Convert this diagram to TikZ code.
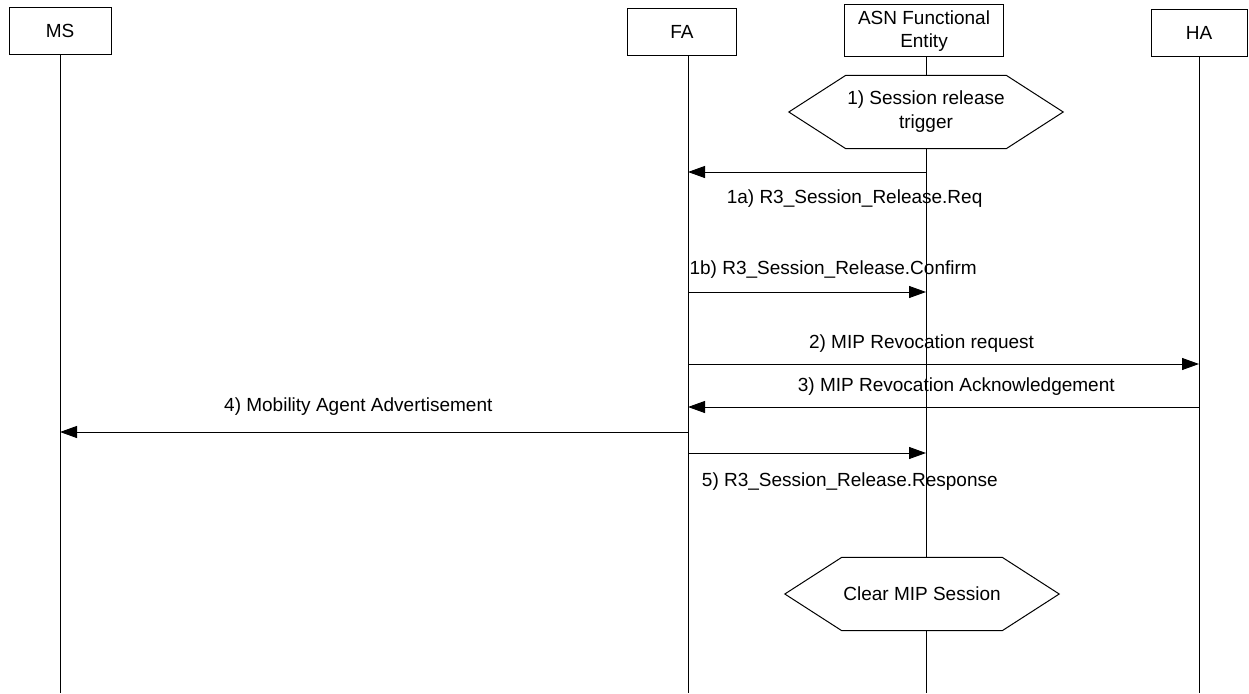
\documentclass[tikz,border=0pt]{standalone}
\usepackage{fontspec}
\setmainfont{Liberation Sans}
\usetikzlibrary{arrows.meta}

\tikzset{
  entity/.style={draw, line width=1pt, minimum height=47pt, inner sep=2pt, align=center, font=\fontsize{19}{23}\selectfont},
  hexbox/.style={minimum width=274pt, minimum height=73pt, inner sep=0pt, align=center, font=\fontsize{19}{24}\selectfont},
  lifeline/.style={line width=1pt},
  msg/.style={line width=1pt, -{Triangle[length=17pt,width=12pt]}},
  msglabel/.style={inner sep=0pt, font=\fontsize{19}{22}\selectfont},
}
\newcommand{\hexborder}[1]{\draw[line width=1pt] (#1.west) -- ([xshift=57pt]#1.north west) -- ([xshift=-57pt]#1.north east) -- (#1.east) -- ([xshift=-57pt]#1.south east) -- ([xshift=57pt]#1.south west) -- cycle;}

\begin{document}
\begin{tikzpicture}[x=1pt,y=-1pt]
\useasboundingbox (0,0) rectangle (1249,693);
\node[entity, minimum width=102pt] (ms) at (60,31) {MS};
\node[entity, minimum width=109pt] (fa) at (682,32) {FA};
\node[entity, minimum width=159pt, minimum height=52pt] (asn) at (924,31) {ASN Functional\\Entity};
\node[entity, minimum width=96pt] (ha) at (1199,33) {HA};
\coordinate (fal) at (688,55.5);
\coordinate (bot) at (0,693);

\node[hexbox] (trig) at (926,112) {1) Session release\\trigger};
\hexborder{trig}
\node[hexbox] (clear) at (922,594) {Clear MIP Session};
\hexborder{clear}

% lifelines
\draw[lifeline] (ms.south) -- (ms |- bot);
\draw[lifeline] (fal) -- (fal |- bot);
\draw[lifeline] (trig |- asn.south) -- (trig.north);
\draw[lifeline] (trig.south) -- (trig |- clear.north);
\draw[lifeline] (trig |- clear.south) -- (trig |- bot);
\draw[lifeline] (ha.south) -- (ha |- bot);

% messages
\coordinate (m1a) at (0,172);
\coordinate (m1b) at (0,292);
\coordinate (m2) at (0,364);
\coordinate (m3) at (0,407);
\coordinate (m4) at (0,432);
\coordinate (m5) at (0,453);
\draw[msg] (trig |- m1a) -- node[msglabel, pos=.3, below=17pt] (l1a) {1a) R3\_Session\_Release.Req} (fal |- m1a);
\draw[msg] (fal |- m1b) -- node[msglabel, pos=.61, above=13pt] (l1b) {1b) R3\_Session\_Release.Confirm} (trig |- m1b);
\draw[msg] (fal |- m2) -- node[msglabel, pos=.457, above=11pt] (l2) {2) MIP Revocation request} (ha |- m2);
\draw[msg] (ha |- m3) -- node[msglabel, pos=.475, above=11pt] (l3) {3) MIP Revocation Acknowledgement} (fal |- m3);
\draw[msg] (fal |- m4) -- node[msglabel, pos=.525, above=16pt] (l4) {4) Mobility Agent Advertisement} (ms |- m4);
\draw[msg] (fal |- m5) -- node[msglabel, pos=.68, below=19pt] (l5) {5) R3\_Session\_Release.Response} (trig |- m5);
\end{tikzpicture}
\end{document}
